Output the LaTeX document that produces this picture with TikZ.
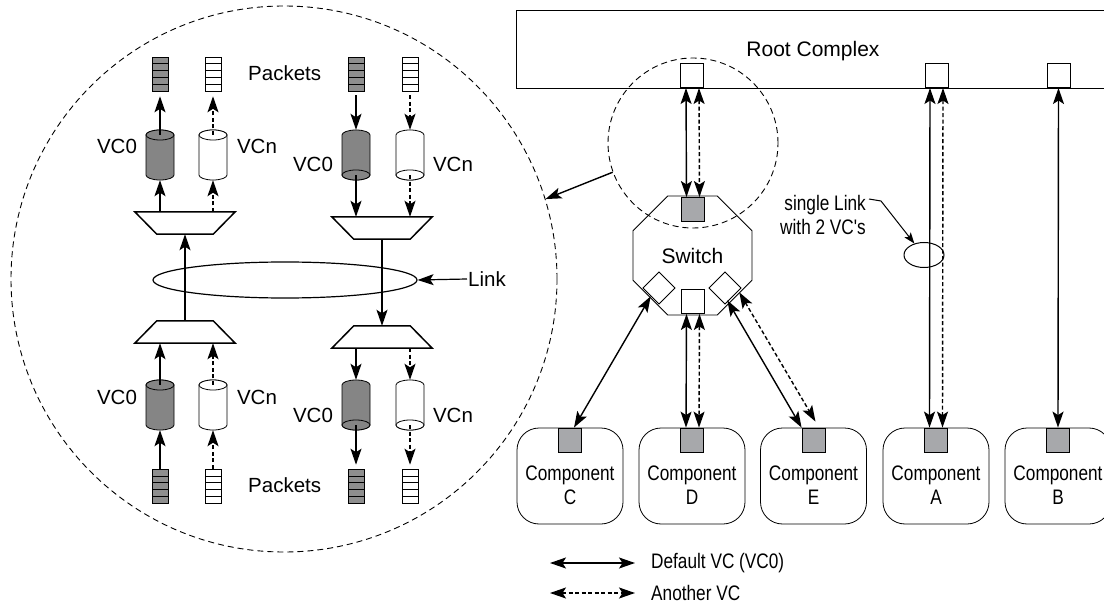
\documentclass[tikz,border=0pt]{standalone}
\usepackage{fontspec}
\setmainfont{Liberation Sans}
\newfontfamily\narrowfont[FakeStretch=0.82]{Liberation Sans}
\usetikzlibrary{arrows.meta,calc,shapes.geometric}
\definecolor{portgray}{HTML}{A7A8AB}
\definecolor{cylgray}{HTML}{858585}
\definecolor{pktgray}{HTML}{8E8E8E}
\tikzset{
  reg/.style={font=\fontsize{20.5}{24}\selectfont, inner sep=1pt},
  nar/.style={font=\narrowfont\fontsize{21}{24}\selectfont, inner sep=1pt, align=center},
  sarr/.style={line width=1.4pt},
  darr/.style={line width=1.4pt, dash pattern=on 4pt off 2.5pt},
  port/.style={draw, line width=0.8pt, minimum width=23pt, minimum height=24pt, inner sep=0pt},
  gport/.style={port, fill=portgray},
  wport/.style={port, fill=white},
  dport/.style={draw, line width=0.8pt, fill=white, rotate=45, minimum width=22.6pt, minimum height=22.6pt, inner sep=0pt},
  compbox/.style={draw, line width=0.8pt, rounded corners=22pt, minimum width=106pt, minimum height=96pt, inner sep=0pt, fill=white},
  pkt/.style={draw, line width=0.6pt, minimum width=16pt, minimum height=34pt, inner sep=0pt,
    path picture={\foreach \i in {1,2,3,4}{\draw[line width=0.6pt] ($(path picture bounding box.north west)!\i/5!(path picture bounding box.south west)$) -- ($(path picture bounding box.north east)!\i/5!(path picture bounding box.south east)$);}}},
  pktz/.style={pkt, fill=pktgray},
  pktn/.style={pkt, fill=white},
  cylbox/.style={minimum width=28pt, minimum height=50pt, inner sep=0pt},
  muxbox/.style={minimum width=100pt, minimum height=22pt, inner sep=0pt},
  muxline/.style={line width=1.5pt, fill=white},
  dcirc/.style={circle, draw, line width=0.9pt, dash pattern=on 6pt off 4pt, inner sep=0pt},
  cylup/.pic={
    \filldraw[line width=0.8pt, fill=#1] (-14,-20) -- (-14,20) arc[start angle=180, end angle=0, x radius=14, y radius=5] -- (14,-20) arc[start angle=0, end angle=-180, x radius=14, y radius=5] -- cycle;
    \filldraw[line width=0.8pt, fill=#1] (0,-20) ellipse[x radius=14, y radius=5];
  },
  cyldown/.pic={
    \filldraw[line width=0.8pt, fill=#1] (-14,-20) arc[start angle=180, end angle=360, x radius=14, y radius=5] -- (14,20) arc[start angle=0, end angle=180, x radius=14, y radius=5] -- cycle;
    \filldraw[line width=0.8pt, fill=#1] (0,20) ellipse[x radius=14, y radius=5];
  },
}
\begin{document}
\begin{tikzpicture}[x=1pt, y=-1pt, >={Stealth[length=16pt,width=11pt,inset=3.5pt]}]
\useasboundingbox (0,0) rectangle (1104,607);

% ---------- left: zoomed view ----------
\node[dcirc, minimum size=546pt] (bigc) at (284,279) {};

% packets
\node[pktz] (k1) at (160,74) {};
\node[pktn] (k2) at (213,74) {};
\node[pktz] (k3) at (356,74) {};
\node[pktn] (k4) at (410,74) {};
\node[pktz] (k5) at (160,486) {};
\node[pktn] (k6) at (213,486) {};
\node[pktz] (k7) at (356,486) {};
\node[pktn] (k8) at (410,486) {};
\node[reg, anchor=west] (pk1) at (247,73) {Packets};
\node[reg, anchor=west] (pk2) at (247,485) {Packets};

% cylinders
\node[cylbox] (c1) at (160,155) {};
\node[cylbox] (c2) at (213,155) {};
\node[cylbox] (c3) at (356,155) {};
\node[cylbox] (c4) at (410,155) {};
\node[cylbox] (c5) at (160,405) {};
\node[cylbox] (c6) at (213,405) {};
\node[cylbox] (c7) at (356,405) {};
\node[cylbox] (c8) at (410,405) {};
\pic at (c1) {cylup=cylgray};
\pic at (c2) {cylup=white};
\pic at (c3) {cyldown=cylgray};
\pic at (c4) {cyldown=white};
\pic at (c5) {cylup=cylgray};
\pic at (c6) {cylup=white};
\pic at (c7) {cyldown=cylgray};
\pic at (c8) {cyldown=white};

\node[reg] (v1) at (117,146) {VC0};
\node[reg] (v2) at (257,146) {VCn};
\node[reg] (v3) at (313,164) {VC0};
\node[reg] (v4) at (453,164) {VCn};
\node[reg] (v5) at (117,397) {VC0};
\node[reg] (v6) at (257,397) {VCn};
\node[reg] (v7) at (313,415) {VC0};
\node[reg] (v8) at (453,415) {VCn};

% muxes
\node[muxbox] (m1) at (185,223) {};
\node[muxbox] (m2) at (185,332) {};
\node[muxbox] (m3) at (382,228) {};
\node[muxbox] (m4) at (382,337) {};
\draw[muxline] (m1.north west) -- (m1.north east) -- ($(m1.south east)+(-22,0)$) -- ($(m1.south west)+(22,0)$) -- cycle;
\draw[muxline] (m3.north west) -- (m3.north east) -- ($(m3.south east)+(-22,0)$) -- ($(m3.south west)+(22,0)$) -- cycle;
\draw[muxline] (m2.south west) -- (m2.south east) -- ($(m2.north east)+(-22,0)$) -- ($(m2.north west)+(22,0)$) -- cycle;
\draw[muxline] (m4.south west) -- (m4.south east) -- ($(m4.north east)+(-22,0)$) -- ($(m4.north west)+(22,0)$) -- cycle;

% link
\node[draw, ellipse, line width=1.2pt, minimum width=264pt, minimum height=36pt, inner sep=0pt] (link) at (285,280) {};
\draw[sarr,->] (m2.north) -- (m1.south);
\draw[sarr,->] (m3.south) -- (m4.north);
\node[reg, anchor=west] (linklbl) at (467,279) {Link};
\draw[line width=1.2pt,->] (linklbl.west) -- (link.east);

% top-left column arrows
\draw[sarr,->] (m1.north -| c1) -- (c1.south);
\draw[darr,->] (m1.north -| c2) -- (c2.south);
\draw[sarr,->,shorten >=5pt] ($(c1.north)+(0,5)$) -- (k1.south);
\draw[darr,->,shorten >=5pt] ($(c2.north)+(0,5)$) -- (k2.south);
% top-right
\draw[sarr,->,shorten <=4pt] (k3.south) -- (c3.north);
\draw[darr,->,shorten <=4pt] (k4.south) -- (c4.north);
\draw[sarr,->] ($(c3.south)+(0,-5)$) -- (m3.north -| c3);
\draw[darr,->] ($(c4.south)+(0,-5)$) -- (m3.north -| c4);
% bottom-left
\draw[sarr,->] (k5.north) -- (c5.south);
\draw[darr,->] (k6.north) -- (c6.south);
\draw[sarr,->] ($(c5.north)+(0,5)$) -- (m2.south -| c5);
\draw[darr,->] ($(c6.north)+(0,5)$) -- (m2.south -| c6);
% bottom-right
\draw[sarr,->] (m4.south -| c7) -- (c7.north);
\draw[darr,->] (m4.south -| c8) -- (c8.north);
\draw[sarr,->,shorten >=4pt] ($(c7.south)+(0,-5)$) -- (k7.north);
\draw[darr,->,shorten >=4pt] ($(c8.south)+(0,-5)$) -- (k8.north);

% ---------- right: topology ----------
\node[draw, line width=1pt, anchor=north west, minimum width=594pt, minimum height=78pt, inner sep=0pt] (rc) at (516,10) {};
\node[font=\fontsize{21}{24}\selectfont, inner sep=1pt] (rclbl) at (813,51) {Root Complex};
\node[wport, anchor=south] (rp1) at (692,88) {};
\node[wport, anchor=south] (rp2) at (936.5,88) {};
\node[wport, anchor=south] (rp3) at (1058.5,88) {};

\node[regular polygon, regular polygon sides=8, draw, line width=0.8pt, minimum size=129pt, inner sep=0pt, font=\fontsize{21}{24}\selectfont] (sw) at (692.5,255.5) {Switch};
\node[gport, anchor=north] (spt) at ($(sw.center)+(0,-58.5)$) {};
\node[wport, anchor=south] (spb) at ($(sw.center)+(0,58.5)$) {};
\node[dport] (spl) at ($(sw.center)+(-33.5,32.5)$) {};
\node[dport] (spr) at ($(sw.center)+(32.5,32.5)$) {};

\node[dcirc, minimum size=170pt] (smc) at (693,143) {};
\draw[sarr,->] (smc.200) -- (bigc.17);

% components
\node[compbox] (cC) at (570,476) {};
\node[compbox] (cD) at (692,476) {};
\node[compbox] (cE) at (813.5,476) {};
\node[compbox] (cA) at (936,476) {};
\node[compbox] (cB) at (1058,476) {};
\node[nar] (tC) at ($(cC.center)+(0,9)$) {Component\\C};
\node[nar] (tD) at ($(cD.center)+(0,9)$) {Component\\D};
\node[nar] (tE) at ($(cE.center)+(0,9)$) {Component\\E};
\node[nar] (tA) at ($(cA.center)+(0,9)$) {Component\\A};
\node[nar] (tB) at ($(cB.center)+(0,9)$) {Component\\B};
\node[gport, anchor=north] (pC) at (cC.north) {};
\node[gport, anchor=north] (pD) at (cD.north) {};
\node[gport, anchor=north] (pE) at (cE.north) {};
\node[gport, anchor=north] (pA) at (cA.north) {};
\node[gport, anchor=north] (pB) at (cB.north) {};

% links
\draw[sarr,<->] ($(rp1.south)+(-6,0)$) -- ($(spt.north)+(-6,0)$);
\draw[darr,<->] ($(rp1.south)+(7,0)$) -- ($(spt.north)+(7,0)$);
\draw[sarr,<->] ($(spb.south)+(-6,0)$) -- ($(pD.north)+(-6,0)$);
\draw[darr,<->] ($(spb.south)+(7,0)$) -- ($(pD.north)+(7,0)$);
\draw[sarr,<->] ($(rp2.south)+(-6.5,0)$) -- ($(pA.north)+(-6.5,0)$);
\draw[darr,<->] ($(rp2.south)+(6.5,0)$) -- ($(pA.north)+(6.5,0)$);
\draw[sarr,<->] (rp3.south) -- (pB.north);
\draw[sarr,<->] (spl.west) -- ($(pC.north)+(4,0)$);
\draw[sarr,<->] ($(spr.south)+(-6,4)$) -- (pE.north west);
\draw[darr,<->] ($(spr.south)+(6,-4)$) -- ($(pE.north)+(2,-6)$);

% single link annotation
\node[draw, ellipse, line width=1pt, minimum width=40pt, minimum height=25pt, inner sep=0pt] (sle) at (924,255) {};
\node[nar, align=right, anchor=east] (sllbl) at (867,215) {single Link\\with 2 VC's};
\draw[line width=1pt, -{Stealth[length=11pt,width=8pt,inset=2.5pt]}] ($(sllbl.east)+(2,-16)$) -- ++(12,2) -- (sle.130);

% legend
\coordinate (lg1a) at (550,563);
\coordinate (lg1b) at (635,563);
\coordinate (lg2a) at (550,593);
\coordinate (lg2b) at (635,593);
\draw[sarr,<->] (lg1a) -- (lg1b);
\draw[darr,<->] (lg2a) -- (lg2b);
\node[nar, anchor=west] (lg1t) at (650,563) {Default VC (VC0)};
\node[nar, anchor=west] (lg2t) at (650,593) {Another VC};
\end{tikzpicture}
\end{document}
